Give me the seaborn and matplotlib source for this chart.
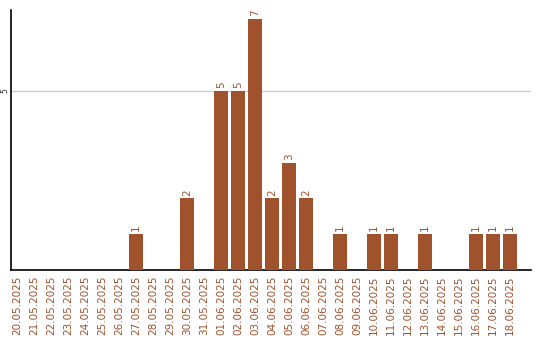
import matplotlib
matplotlib.use("Agg")
import matplotlib.pyplot as plt
import seaborn as sns
import pandas as pd

dates = ["20.05.2025", "21.05.2025", "22.05.2025", "23.05.2025", "24.05.2025",
         "25.05.2025", "26.05.2025", "27.05.2025", "28.05.2025", "29.05.2025",
         "30.05.2025", "31.05.2025", "01.06.2025", "02.06.2025", "03.06.2025",
         "04.06.2025", "05.06.2025", "06.06.2025", "07.06.2025", "08.06.2025",
         "09.06.2025", "10.06.2025", "11.06.2025", "12.06.2025", "13.06.2025",
         "14.06.2025", "15.06.2025", "16.06.2025", "17.06.2025", "18.06.2025"]
counts = [0, 0, 0, 0, 0, 0, 0, 1, 0, 0, 2, 0, 5, 5, 7, 2, 3, 2, 0, 1,
          0, 1, 1, 0, 1, 0, 0, 1, 1, 1]

color = "#A0522D"
sns.set_style("white")
plt.rcParams['font.family'] = ['DejaVu Sans']

df = pd.DataFrame({"date": dates, "count": counts})
fig = plt.figure(figsize=(5.4, 3.4), dpi=100)
ax = fig.add_axes([11/540, 70/340, 520/540, 260/340])
sns.barplot(data=df, x="date", y="count", color=color, width=0.82,
            saturation=1, ax=ax, zorder=3, linewidth=0, edgecolor="none")
ax.set_xlim(-0.35, 30.24)
ax.set_ylim(0, 7.26)
ax.set_yticks([5])
ax.set_yticklabels(["5"], rotation=90, fontsize=5.5, va="center")
ax.yaxis.grid(True, color="#cccccc", linewidth=1, zorder=0)
ax.tick_params(axis="y", length=0, pad=1)
ax.tick_params(axis="x", length=0, pad=4)
ax.set_xticks(range(len(dates)))
ax.set_xticklabels(dates, rotation=90, fontsize=7.5, color=color, va="top")
ax.set_xlabel("")
ax.set_ylabel("")
for s in ["top", "right"]:
    ax.spines[s].set_visible(False)
for s in ["left", "bottom"]:
    ax.spines[s].set_color("black")
    ax.spines[s].set_linewidth(1.2)
for i, v in enumerate(counts):
    if v > 0:
        ax.text(i, v + 0.08, str(v), rotation=90, ha="center", va="bottom",
                fontsize=7.5, color=color)
fig.savefig("out.png", dpi=100)
